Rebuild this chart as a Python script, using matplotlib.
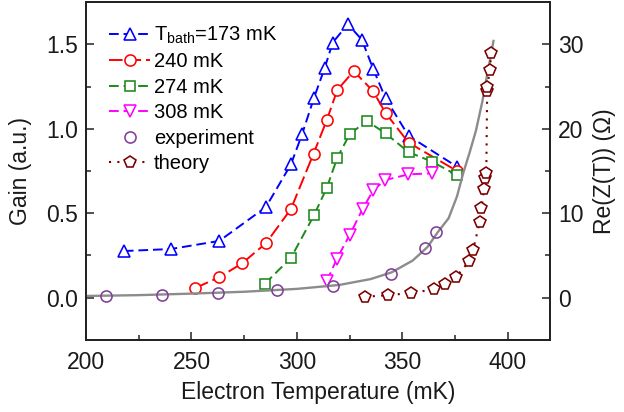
import numpy as np
import matplotlib.pyplot as plt
from matplotlib.lines import Line2D

plt.rcParams['font.family'] = ['Liberation Sans', 'DejaVu Sans']
plt.rcParams['mathtext.fontset'] = 'custom'
plt.rcParams['mathtext.rm'] = 'Liberation Sans'
plt.rcParams['mathtext.it'] = 'Liberation Sans'

# gain curves (left axis)
t_173 = [217.9, 240.2, 263.2, 285.3, 297.2, 302.5, 308.1, 313.2, 317.0, 324.2,
         330.8, 336.2, 342.1, 353.0, 375.9]
g_173 = [0.276, 0.288, 0.336, 0.536, 0.789, 0.968, 1.182, 1.359, 1.51, 1.619,
         1.528, 1.355, 1.18, 0.958, 0.776]

t_240 = [251.9, 263.2, 274.0, 285.3, 297.2, 307.9, 314.2, 319.2, 327.0, 336.2,
         342.1, 353.0, 376.0]
g_240 = [0.058, 0.121, 0.203, 0.322, 0.525, 0.852, 1.051, 1.230, 1.341, 1.222,
         1.093, 0.918, 0.75]

t_274 = [284.9, 297.2, 308.1, 314.2, 319.2, 325.1, 333.2, 342.1, 353.0, 364.2, 376.0]
g_274 = [0.083, 0.236, 0.487, 0.650, 0.829, 0.968, 1.047, 0.972, 0.862, 0.805, 0.725]

t_308 = [314.2, 318.9, 325.1, 331.2, 336.3, 341.9, 352.9, 364.0]
g_308 = [0.097, 0.228, 0.372, 0.525, 0.637, 0.696, 0.73, 0.736]

# Re(Z(T)) (right axis, Ohm)
t_exp = [209.4, 235.8, 262.6, 290.6, 317.0, 344.7, 360.8, 366.2]
z_exp = [0.16, 0.36, 0.6, 0.87, 1.4, 2.86, 5.9, 7.8]

t_fit = [200, 225, 250, 275, 300, 320, 335, 345, 355, 362, 367, 372, 376, 379,
         382, 385, 388, 390, 392, 393.3]
z_fit = [0.2, 0.3, 0.48, 0.7, 1.04, 1.5, 2.2, 3.0, 4.4, 6.0, 7.8, 9.4, 12.0,
         14.8, 17.2, 19.8, 23.2, 26.0, 28.6, 30.4]

t_th = [332.1, 343.4, 354.3, 365.1, 370.2, 375.7, 381.7, 383.6, 386.8, 387.6,
        388.8, 389.5, 389.9, 390.3, 390.4, 391.5, 392.3]
z_th = [0.1, 0.3, 0.55, 1.0, 1.6, 2.5, 4.3, 5.6, 9.0, 10.6,
        12.9, 14.2, 14.8, 24.5, 25.0, 26.9, 29.0]

fig = plt.figure(figsize=(6.24, 4.12), dpi=100)
ax = fig.add_axes([0.138, 0.175, 0.743, 0.82])
ax2 = ax.twinx()

ms = 8
mew = 1.15
dash = (0, (5, 2.5))

l1, = ax.plot(t_173, g_173, ls=dash, color='#0000ff', lw=1.4, marker='^', ms=ms,
              mfc='white', mec='#0000ff', mew=mew, label=r'T$_{\mathrm{bath}}$=173 mK')
l2, = ax.plot(t_240, g_240, ls=(0, (7, 2.5)), color='#ff0000', lw=1.4, marker='o', ms=ms,
              mfc='white', mec='#ff0000', mew=mew, label='240 mK')
l3, = ax.plot(t_274, g_274, ls=dash, color='#1a8a1a', lw=1.4, marker='s', ms=ms - 1,
              mfc='white', mec='#1a8a1a', mew=mew, label='274 mK')
l4, = ax.plot(t_308, g_308, ls=dash, color='#ff00ff', lw=1.4, marker='v', ms=ms,
              mfc='white', mec='#ff00ff', mew=mew, label='308 mK')

ax2.plot(t_fit, z_fit, color='#8c8c8c', lw=1.7)
l5, = ax2.plot(t_exp, z_exp, ls='none', marker='o', ms=ms, mfc='none',
               mec='#7f3f98', mew=mew, label='experiment')
l6, = ax2.plot(t_th, z_th, ls=(0, (1, 3)), color='#7a0000', lw=1.5, marker='p', ms=ms + 0.5,
               mfc='white', mec='#7a0000', mew=mew, label='theory')

ax.set_xlim(200, 420)
ax.set_ylim(-0.25, 1.75)
ax2.set_ylim(-5, 35)

ax.set_xticks([200, 250, 300, 350, 400])
ax.set_xticks([225, 275, 325, 375], minor=True)
ax.set_yticks([0.0, 0.5, 1.0, 1.5])
ax.set_yticks([0.25, 0.75, 1.25], minor=True)
ax.set_yticklabels(['0.0', '0.5', '1.0', '1.5'])
ax2.set_yticks([0, 10, 20, 30])
ax2.set_yticks([5, 15, 25], minor=True)

fc = '#222222'
for a in (ax, ax2):
    a.tick_params(which='major', direction='in', length=6, width=1.1, labelsize=16.5,
                  colors=fc, labelcolor='#1a1a1a', pad=6)
    a.tick_params(which='minor', direction='in', length=3.5, width=1.1, colors=fc)
    for s in a.spines.values():
        s.set_linewidth(1.3)
        s.set_color(fc)
ax.tick_params(axis='x', top=False, pad=8)

ax.set_xlabel('Electron Temperature (mK)', fontsize=16.5, color='#1a1a1a', labelpad=5)
ax.set_ylabel('Gain (a.u.)', fontsize=16.5, color='#1a1a1a', labelpad=10)
ax2.set_ylabel('Re(Z(T)) (\u03a9)', fontsize=16.5, color='#1a1a1a', labelpad=7)

leg = ax2.legend(handles=[l1, l2, l3, l4, l5, l6], loc='upper left',
                 bbox_to_anchor=(0.02, 0.975), frameon=False, fontsize=14.5,
                 handlelength=2.0, handletextpad=0.2, labelspacing=0.32,
                 borderaxespad=0.3)

fig.savefig('out.png', dpi=100)
